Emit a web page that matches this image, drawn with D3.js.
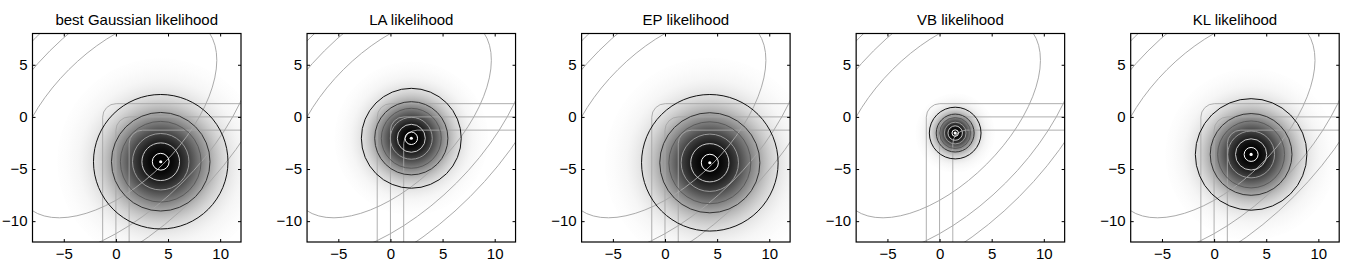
<!DOCTYPE html>
<html>
<head>
<meta charset="utf-8">
<script src="https://cdn.jsdelivr.net/npm/d3@7"></script>
<style>
  html, body { margin: 0; padding: 0; background: #fff; }
  svg { display: block; }
  text { font-family: "Liberation Sans", Arial, Helvetica, sans-serif; fill: #000; }
</style>
</head>
<body>
<script>

var W = 1350, H = 271;

// panel titles
var titles = ["best Gaussian likelihood", "LA likelihood", "EP likelihood", "VB likelihood", "KL likelihood"];

// approximate Gaussian likelihood: centre and outermost contour radius per panel
var meanX = [4.3, 2.0, 4.3, 1.5, 3.55];
var meanY = [-4.3, -2.05, -4.4, -1.55, -3.6];
var outerRadius = [6.45, 4.79, 6.55, 2.48, 5.35];

// contour rings as fraction of the outer radius, outer to inner
var ringFractions = [1, 0.733, 0.6, 0.42, 0.28, 0.125];
var ringColors = ["#111", "#333", "#5a5a5a", "#999", "#c8c8c8", "#fff"];

// prior: ellipse semi axes along (1,1) and (1,-1), and the contour scales
var priorAxes = [12.1, 6.4];
var priorScales = [1, 1.4, 1.69];

// likelihood contours: corner of each L (vertical asymptote x, horizontal asymptote y)
var likX = [-1.27, 0, 1.27];
var likY = [1.27, 0, -1.27];
var likCorner = 1.3;

// axes
var xDomain = [-8, 12], yDomain = [-12, 8];
var xTicks = [-5, 0, 5, 10];
var yTicks = [-10, -5, 0, 5];

var left0 = 32.5, step = 274.55, size = 208.5, top0 = 33.5;

var svg = d3.select("body").append("svg").attr("width", W).attr("height", H);
var defs = svg.append("defs");

titles.forEach(function(title, i) {
  var g = svg.append("g").attr("transform", "translate(" + (left0 + i * step) + "," + top0 + ")");
  var x = d3.scaleLinear().domain(xDomain).range([0, size]);
  var y = d3.scaleLinear().domain(yDomain).range([size, 0]);
  var k = x(1) - x(0);

  defs.append("clipPath").attr("id", "clip" + i)
    .append("rect").attr("width", size).attr("height", size);

  var plot = g.append("g").attr("clip-path", "url(#clip" + i + ")");

  // density shading as a radial gradient
  var sigma = outerRadius[i] / 2.146;
  var reach = 3.3;
  var grad = defs.append("radialGradient").attr("id", "grad" + i)
    .attr("gradientUnits", "userSpaceOnUse")
    .attr("cx", x(meanX[i])).attr("cy", y(meanY[i]))
    .attr("r", reach * sigma * k);
  d3.range(0, 1.0001, 0.04).forEach(function(t) {
    var d = t * reach;
    var v = Math.round(255 * Math.pow(1 - Math.exp(-d * d / 2), 1.2));
    grad.append("stop").attr("offset", t).attr("stop-color", d3.rgb(v, v, v));
  });
  plot.append("circle")
    .attr("cx", x(meanX[i])).attr("cy", y(meanY[i]))
    .attr("r", reach * sigma * k)
    .attr("fill", "url(#grad" + i + ")");

  // prior ellipses
  plot.selectAll("ellipse.prior").data(priorScales).enter().append("ellipse")
    .attr("class", "prior")
    .attr("cx", x(0)).attr("cy", y(0))
    .attr("rx", function(s) { return s * priorAxes[0] * k; })
    .attr("ry", function(s) { return s * priorAxes[1] * k; })
    .attr("transform", "rotate(-45," + x(0) + "," + y(0) + ")")
    .attr("fill", "none").attr("stroke", "#a6a6a6").attr("stroke-width", 0.9);

  // likelihood L-shaped contours
  plot.selectAll("path.lik").data(likX).enter().append("path")
    .attr("class", "lik")
    .attr("d", function(lx, j) {
      var ly = likY[j], r = likCorner * k;
      return "M" + x(lx) + "," + y(yDomain[0]) +
        "L" + x(lx) + "," + (y(ly) + r) +
        "A" + r + "," + r + " 0 0 1 " + (x(lx) + r) + "," + y(ly) +
        "L" + x(xDomain[1]) + "," + y(ly);
    })
    .attr("fill", "none").attr("stroke", "#a6a6a6").attr("stroke-width", 0.9);

  // Gaussian contour rings
  plot.selectAll("circle.ring").data(ringFractions).enter().append("circle")
    .attr("class", "ring")
    .attr("cx", x(meanX[i])).attr("cy", y(meanY[i]))
    .attr("r", function(f) { return f * outerRadius[i] * k; })
    .attr("fill", "none")
    .attr("stroke", function(f, j) { return ringColors[j]; })
    .attr("stroke-width", 1);

  plot.append("circle")
    .attr("cx", x(meanX[i])).attr("cy", y(meanY[i]))
    .attr("r", 1.6).attr("fill", "#fff");

  // axes, ticks inward
  var fmt = d3.format("");
  g.append("g").attr("transform", "translate(0," + size + ")")
    .call(d3.axisBottom(x).tickValues(xTicks).tickSize(-3).tickPadding(6).tickFormat(fmt));
  g.append("g")
    .call(d3.axisTop(x).tickValues(xTicks).tickSize(-3).tickFormat(""));
  g.append("g")
    .call(d3.axisLeft(y).tickValues(yTicks).tickSize(-3).tickPadding(5).tickFormat(fmt));
  g.append("g").attr("transform", "translate(" + size + ",0)")
    .call(d3.axisRight(y).tickValues(yTicks).tickSize(-3).tickFormat(""));
  g.selectAll(".domain").remove();
  g.selectAll(".tick line").attr("stroke", "#000").attr("stroke-width", 1);
  g.selectAll(".tick text")
    .style("font-family", "'Liberation Sans', Arial, Helvetica, sans-serif")
    .style("font-size", "15px");

  g.append("rect").attr("width", size).attr("height", size)
    .attr("fill", "none").attr("stroke", "#000").attr("stroke-width", 1.2);

  g.append("text")
    .attr("x", size / 2).attr("y", -8.5)
    .attr("text-anchor", "middle")
    .style("font-size", "15px")
    .text(title);
});

</script>
</body>
</html>
